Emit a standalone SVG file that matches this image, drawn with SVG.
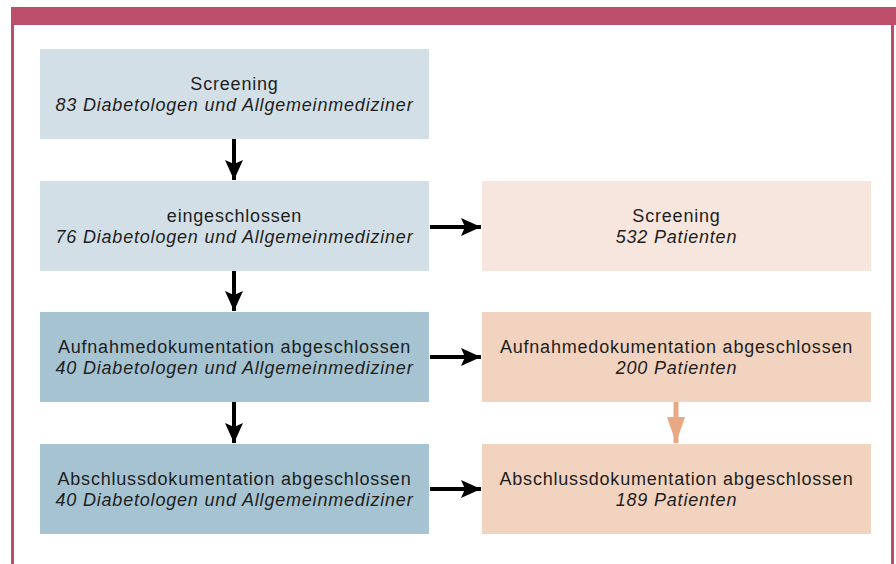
<svg xmlns="http://www.w3.org/2000/svg" width="896" height="564" viewBox="0 0 896 564">
<style>
.t{font-family:"Liberation Sans",Arial,sans-serif;font-size:18px;letter-spacing:0.8px;fill:#1e1e1e;text-anchor:middle}
.i{font-style:italic}
.c1{fill:#D3DFE7}.c2{fill:#A5C3D1}.c3{fill:#F7E6DE}.c4{fill:#F2D3BF}
.k{stroke:#000;stroke-width:4;fill:none}
.o{stroke:#E8A882;stroke-width:5;fill:none}
</style>
<defs>
<marker id="ah" markerUnits="userSpaceOnUse" markerWidth="20" markerHeight="20" refX="20" refY="9" orient="auto"><path d="M0,0 L20,9 L0,18 L4,9 Z" fill="#000"/></marker>
<marker id="ao" markerUnits="userSpaceOnUse" markerWidth="26" markerHeight="20" refX="26" refY="9" orient="auto"><path d="M0,0 L26,9 L0,18 Z" fill="#E8A882"/></marker>
</defs>
<rect x="0" y="0" width="896" height="564" fill="#fff"/>
<rect x="11" y="7" width="885" height="18" fill="#BC4D6B"/>
<rect x="11" y="7" width="3" height="557" fill="#BC4D6B"/>
<rect x="891" y="25" width="3" height="539" fill="#BC4D6B"/>
<g id="n1"><rect class="c1" x="40" y="49" width="389" height="90"/><text class="t" x="234.5" y="90">Screening</text><text class="t i" x="234.5" y="111">83 Diabetologen und Allgemeinmediziner</text></g>
<g id="n2"><rect class="c1" x="40" y="181" width="389" height="90"/><text class="t" x="234.5" y="222">eingeschlossen</text><text class="t i" x="234.5" y="243">76 Diabetologen und Allgemeinmediziner</text></g>
<g id="n3"><rect class="c2" x="40" y="312" width="389" height="90"/><text class="t" x="234.5" y="353">Aufnahmedokumentation abgeschlossen</text><text class="t i" x="234.5" y="374">40 Diabetologen und Allgemeinmediziner</text></g>
<g id="n4"><rect class="c2" x="40" y="444" width="389" height="90"/><text class="t" x="234.5" y="485">Abschlussdokumentation abgeschlossen</text><text class="t i" x="234.5" y="506">40 Diabetologen und Allgemeinmediziner</text></g>
<g id="n5"><rect class="c3" x="482" y="181" width="389" height="90"/><text class="t" x="676.5" y="222">Screening</text><text class="t i" x="676.5" y="243">532 Patienten</text></g>
<g id="n6"><rect class="c4" x="482" y="312" width="389" height="90"/><text class="t" x="676.5" y="353">Aufnahmedokumentation abgeschlossen</text><text class="t i" x="676.5" y="374">200 Patienten</text></g>
<g id="n7"><rect class="c4" x="482" y="444" width="389" height="90"/><text class="t" x="676.5" y="485">Abschlussdokumentation abgeschlossen</text><text class="t i" x="676.5" y="506">189 Patienten</text></g>
<g id="connectors">
<line class="k" x1="234" y1="139" x2="234" y2="180" marker-end="url(#ah)"/>
<line class="k" x1="234" y1="271" x2="234" y2="311" marker-end="url(#ah)"/>
<line class="k" x1="234" y1="402" x2="234" y2="443" marker-end="url(#ah)"/>
<line class="k" x1="430" y1="227" x2="481" y2="227" marker-end="url(#ah)"/>
<line class="k" x1="430" y1="357" x2="481" y2="357" marker-end="url(#ah)"/>
<line class="k" x1="430" y1="489" x2="481" y2="489" marker-end="url(#ah)"/>
<line class="o" x1="676" y1="402" x2="676" y2="443" marker-end="url(#ao)"/>
</g>
</svg>
